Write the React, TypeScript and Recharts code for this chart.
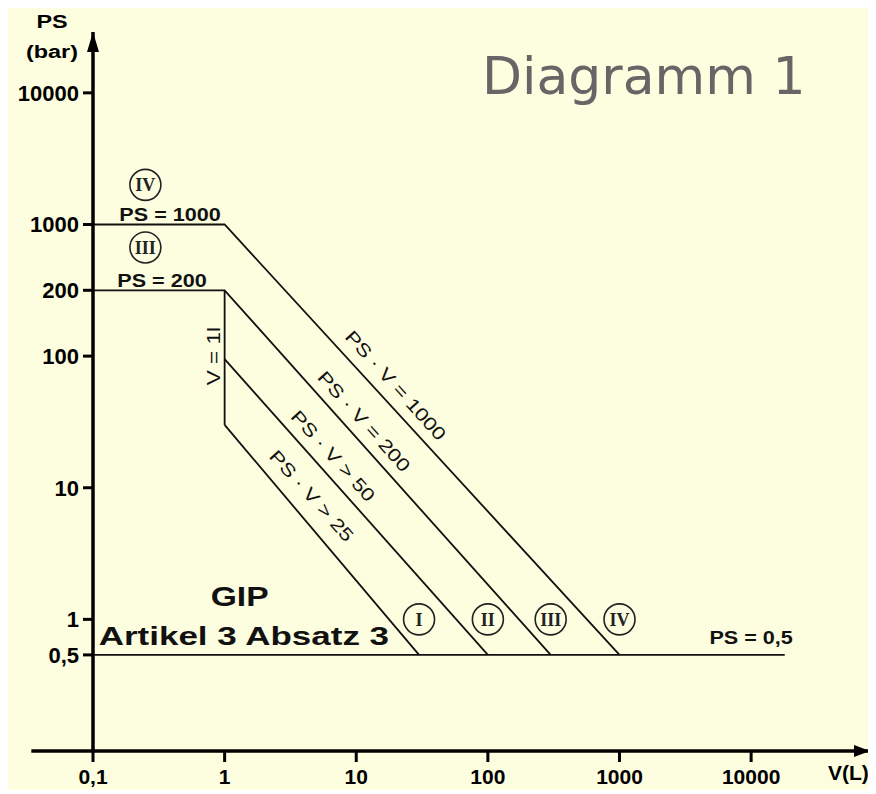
import React from 'react';
import { ComposedChart, Line, XAxis, YAxis, ReferenceDot, ReferenceLine } from 'recharts';

// V (L) along the bottom, PS (bar) up the side
const V_TICKS = [0.1, 1, 10, 100, 1000, 10000];
const PS_TICKS = [0.5, 1, 10, 100, 200, 1000, 10000];

// category boundaries as [V, PS]
const BOUNDARY_IV = [[0.1, 1000], [1, 1000], [1000, 0.5]];
const BOUNDARY_III = [[0.1, 200], [1, 200], [300, 0.5]];
const BOUNDARY_V1 = [[1, 200], [1, 30]];
const BOUNDARY_II = [[1, 95], [100, 0.5]];
const BOUNDARY_I = [[1, 30], [30, 0.5]];
const BOUNDARY_GIP = [[0.1, 0.5], [18000, 0.5]];

// circled category numbers [name, V, PS]
const CATEGORY_MARKS: [string, number, number][] = [
  ['I', 30, 1],
  ['II', 100, 1],
  ['III', 300, 1],
  ['IV', 1000, 1],
  ['IV', 0.25, 2000],
  ['III', 0.25, 570],
];

// plain labels [text, V, PS]
const LEVEL_LABELS: [string, number, number][] = [
  ['PS = 1000', 0.385, 1190],
  ['PS = 200', 0.334, 255],
  ['PS = 0,5', 10000, 0.7],
];
const PRODUCT_LABELS: [string, number, number][] = [
  ['PS · V = 1000', 20, 60],
  ['PS · V = 200', 11.5, 32],
  ['PS · V > 50', 6.7, 17.5],
  ['PS · V > 25', 4.6, 8.7],
];
const VOLUME_LABEL: [string, number, number] = ['V = 1l', 0.82, 100];
const GIP_LABELS: [string, number, number][] = [
  ['GIP', 1.3, 1.5],
  ['Artikel 3 Absatz 3', 1.4, 0.73],
];

// where the drawing puts its PS ticks, in decades; 200 sits mid-decade
const PS_AXIS_ANCHORS = [[0.1, -1], [0.5, -0.27], [1, 0], [10, 1], [100, 2], [200, 2.5], [1000, 3], [10000, 4]];

const V_DOMAIN = [0.1, 80000];
const PS_DOMAIN = [0.1, 29000];

const FONT = '"Liberation Sans", Arial, sans-serif';

function psToDecades(ps: number) {
  if (!(ps > 0)) return NaN;
  const a = PS_AXIS_ANCHORS;
  const l = Math.log10(ps);
  if (ps <= a[0][0]) return a[0][1] + l - Math.log10(a[0][0]);
  for (let i = 1; i < a.length; i++) {
    if (ps <= a[i][0]) {
      const l0 = Math.log10(a[i - 1][0]);
      const l1 = Math.log10(a[i][0]);
      return a[i - 1][1] + ((l - l0) / (l1 - l0)) * (a[i][1] - a[i - 1][1]);
    }
  }
  const last = a[a.length - 1];
  return last[1] + l - Math.log10(last[0]);
}

function makePsScale(dom: number[] = PS_DOMAIN, rng: number[] = [0, 1]): any {
  const s: any = (ps: number) => {
    const d0 = psToDecades(dom[0]);
    const d1 = psToDecades(dom[1]);
    return rng[0] + ((psToDecades(ps) - d0) / (d1 - d0)) * (rng[1] - rng[0]);
  };
  s.domain = (d?: number[]) => {
    if (!d) return [...dom];
    dom = [...d];
    return s;
  };
  s.range = (r?: number[]) => {
    if (!r) return [...rng];
    rng = [...r];
    return s;
  };
  s.copy = () => makePsScale(dom, rng);
  s.ticks = () => PS_TICKS;
  s.tickFormat = () => (v: number) => String(v);
  return s;
}

const toPoints = (pts: number[][]) => pts.map(([v, ps]) => ({ v, ps }));

const BOUNDARIES = [
  { id: 'iv', data: toPoints(BOUNDARY_IV) },
  { id: 'iii', data: toPoints(BOUNDARY_III) },
  { id: 'v1', data: toPoints(BOUNDARY_V1) },
  { id: 'ii', data: toPoints(BOUNDARY_II) },
  { id: 'i', data: toPoints(BOUNDARY_I) },
  { id: 'gip', data: toPoints(BOUNDARY_GIP) },
];

const comma = (v: number) => String(v).replace('.', ',');

const XTick = ({ x, y, payload }: any) => (
  <text x={x} y={y + 15} textAnchor="middle" fontFamily={FONT} fontWeight="bold" fontSize={21} fill="#000">
    {comma(payload.value)}
  </text>
);

const YTick = ({ x, y, payload }: any) => (
  <text x={x} y={y + 8} textAnchor="end" fontFamily={FONT} fontWeight="bold" fontSize={22} fill="#000">
    {comma(payload.value)}
  </text>
);

type NoteProps = {
  cx?: number;
  cy?: number;
  text: string;
  size: number;
  angle?: number;
  stretch?: number;
  weight?: string;
};

const Note = ({ cx, cy, text, size, angle = 0, stretch = 1, weight = 'bold' }: NoteProps) => (
  <text
    transform={`translate(${cx},${cy}) rotate(${angle}) scale(${stretch},1)`}
    textAnchor="middle"
    dy="0.36em"
    fontFamily={FONT}
    fontWeight={weight}
    fontSize={size}
    fill="#111"
  >
    {text}
  </text>
);

const CircleMark = ({ cx, cy, name }: any) => (
  <g>
    <circle cx={cx} cy={cy} r={15.5} fill="none" stroke="#222" strokeWidth={1.6} />
    <text
      x={cx}
      y={cy}
      dy="0.35em"
      textAnchor="middle"
      fontFamily='"Liberation Serif", serif'
      fontWeight="bold"
      fontSize={18}
      fill="#222"
    >
      {name}
    </text>
  </g>
);

export default function App() {
  const psScale = makePsScale();
  return (
    <div style={{ position: 'relative', width: 868, height: 782, background: '#fdfddf', overflow: 'hidden' }}>
      <svg width={0} height={0} style={{ position: 'absolute' }}>
        <defs>
          <marker id="arrowY" viewBox="0 0 20 12" refX={20} refY={6} markerWidth={20} markerHeight={12}
            markerUnits="userSpaceOnUse" orient="auto-start-reverse">
            <path d="M0,0 L20,6 L0,12 Z" fill="#000" />
          </marker>
          <marker id="arrowX" viewBox="0 0 16 12" refX={16} refY={6} markerWidth={16} markerHeight={12}
            markerUnits="userSpaceOnUse" orient="auto-start-reverse">
            <path d="M0,0 L16,6 L0,12 Z" fill="#000" />
          </marker>
        </defs>
      </svg>

      <ComposedChart width={868} height={782} margin={{ top: 24, right: 6, bottom: 0, left: 15 }}>
        <XAxis
          type="number"
          dataKey="v"
          scale="log"
          domain={V_DOMAIN}
          allowDataOverflow
          ticks={V_TICKS}
          interval={0}
          height={39}
          tickSize={11}
          tickMargin={7}
          tick={<XTick />}
          axisLine={{ stroke: '#000', strokeWidth: 3.5, markerEnd: 'url(#arrowX)' }}
          tickLine={{ stroke: '#000', strokeWidth: 3 }}
        />
        <YAxis
          type="number"
          dataKey="ps"
          scale={psScale}
          domain={PS_DOMAIN}
          allowDataOverflow
          ticks={PS_TICKS}
          interval={0}
          width={70}
          tickSize={10}
          tickMargin={4}
          tick={<YTick />}
          axisLine={{ stroke: '#000', strokeWidth: 3.5, markerStart: 'url(#arrowY)' }}
          tickLine={{ stroke: '#000', strokeWidth: 3 }}
        />

        <ReferenceLine
          segment={[{ x: 0.034, y: PS_DOMAIN[0] }, { x: V_DOMAIN[0], y: PS_DOMAIN[0] }]}
          ifOverflow="visible"
          stroke="#000"
          strokeWidth={3.5}
        />

        {BOUNDARIES.map((b) => (
          <Line
            key={b.id}
            data={b.data}
            dataKey="ps"
            type="linear"
            stroke="#111"
            strokeWidth={1.8}
            dot={false}
            activeDot={false}
            isAnimationActive={false}
          />
        ))}

        {CATEGORY_MARKS.map(([name, v, ps], i) => (
          <ReferenceDot key={`c${i}`} x={v} y={ps} r={15} shape={(p: any) => <CircleMark {...p} name={name} />} />
        ))}

        {LEVEL_LABELS.map(([text, v, ps]) => (
          <ReferenceDot key={text} x={v} y={ps} r={0}
            shape={(p: any) => <Note cx={p.cx} cy={p.cy} text={text} size={18} stretch={1.2} />} />
        ))}

        {PRODUCT_LABELS.map(([text, v, ps]) => (
          <ReferenceDot key={text} x={v} y={ps} r={0}
            shape={(p: any) => (
              <Note cx={p.cx} cy={p.cy} text={text} size={18} angle={48} stretch={1.25} weight="normal" />
            )} />
        ))}

        <ReferenceDot x={VOLUME_LABEL[1]} y={VOLUME_LABEL[2]} r={0}
          shape={(p: any) => (
            <Note cx={p.cx} cy={p.cy} text={VOLUME_LABEL[0]} size={18} angle={-90} stretch={1.25} weight="normal" />
          )} />

        {GIP_LABELS.map(([text, v, ps], i) => (
          <ReferenceDot key={text} x={v} y={ps} r={0}
            shape={(p: any) => (
              <Note cx={p.cx} cy={p.cy} text={text} size={i === 0 ? 28 : 25} stretch={i === 0 ? 1.2 : 1.4} />
            )} />
        ))}
      </ComposedChart>

      <div style={{ position: 'absolute', left: 4, top: 5, width: 80, textAlign: 'center', fontFamily: FONT,
        fontWeight: 'bold', fontSize: 18, lineHeight: 1, transform: 'scaleX(1.3)' }}>PS</div>
      <div style={{ position: 'absolute', left: 4, top: 35, width: 80, textAlign: 'center', fontFamily: FONT,
        fontWeight: 'bold', fontSize: 18, lineHeight: 1, transform: 'scaleX(1.3)' }}>(bar)</div>
      <div style={{ position: 'absolute', left: 820, top: 754, fontFamily: FONT, fontWeight: 'bold',
        fontSize: 21, lineHeight: 1, whiteSpace: 'nowrap' }}>V(L)</div>
      <div style={{ position: 'absolute', left: 474, top: 42, fontFamily: '"DejaVu Sans", sans-serif',
        fontSize: 52, lineHeight: 1, color: '#666', whiteSpace: 'nowrap' }}>Diagramm 1</div>
    </div>
  );
}
